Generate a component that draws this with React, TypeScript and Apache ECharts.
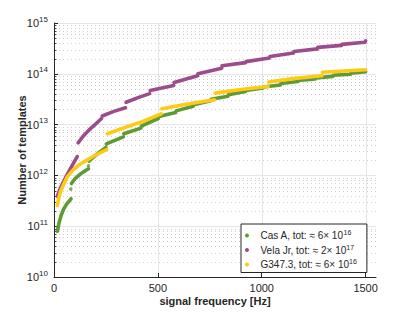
import React, { useEffect, useRef } from 'react';
import * as echarts from 'echarts';

// ---- data ----
const xTicks = [0, 500, 1000, 1500];
const xMax = 1550;
const names = ['Cas A', 'Vela Jr', 'G347.3'];
const totMant = ['6', '2', '6'];
const totExp = ['16', '17', '16'];
const colors = ['#5f9b35', '#9c4c8c', '#fdca14'];

// segments of [frequency Hz, number of templates]
const casA: number[][][] = [
  [[16, 7.94e10], [25, 1.202e11], [35, 1.66e11], [47, 2.188e11], [60, 2.692e11], [82, 3.467e11]],
  [[84, 6.918e11], [100, 8.511e11], [125, 1.047e12], [150, 1.23e12], [166, 1.349e12]],
  [[168, 1.905e12], [210, 2.692e12], [250, 3.548e12]],
  [[252, 4.169e12], [334, 5.754e12]],
  [[336, 6.607e12], [418, 8.511e12]],
  [[420, 9.333e12], [502, 1.318e13]],
  [[504, 1.445e13], [586, 1.738e13]],
  [[588, 1.862e13], [670, 2.291e13]],
  [[672, 2.455e13], [754, 2.951e13]],
  [[756, 3.162e13], [838, 3.631e13]],
  [[840, 3.89e13], [922, 4.467e13]],
  [[924, 4.677e13], [1006, 5.248e13]],
  [[1008, 5.495e13], [1090, 6.026e13]],
  [[1092, 6.457e13], [1174, 7.079e13]],
  [[1176, 7.413e13], [1258, 7.943e13]],
  [[1260, 8.318e13], [1342, 8.913e13]],
  [[1344, 9.333e13], [1426, 9.772e13]],
  [[1428, 1.023e14], [1500, 1.096e14]],
];
const casAIsolated: number[][] = [[81, 5.37e11], [166, 1.55e12]];

const velaJr: number[][][] = [
  [[16, 3.89e11], [30, 5.495e11], [44, 7.244e11], [60, 9.772e11], [76, 1.288e12], [95, 1.778e12], [112, 2.344e12]],
  [[116, 4.365e12], [140, 5.888e12], [170, 7.943e12], [200, 1.023e13], [229, 1.318e13]],
  [[232, 1.479e13], [288, 1.82e13], [344, 2.138e13]],
  [[347, 2.754e13], [405, 3.388e13], [460, 4.074e13]],
  [[463, 4.677e13], [576, 5.888e13]],
  [[578, 6.761e13], [691, 9.12e13]],
  [[693, 1.0e14], [807, 1.288e14]],
  [[809, 1.445e14], [922, 1.66e14]],
  [[924, 1.738e14], [1037, 2.042e14]],
  [[1039, 2.188e14], [1153, 2.57e14]],
  [[1155, 2.754e14], [1268, 3.09e14]],
  [[1270, 3.311e14], [1384, 3.631e14]],
  [[1386, 3.802e14], [1496, 4.169e14], [1500, 4.467e14]],
];

const g347: number[][][] = [
  [[16, 2.57e11], [24, 3.715e11], [31, 4.786e11], [44, 6.31e11], [63, 9.333e11], [92, 1.288e12],
   [125, 1.66e12], [159, 1.995e12], [200, 2.512e12], [254, 3.236e12]],
  [[257, 6.607e12], [340, 8.71e12], [413, 1.096e13], [516, 1.622e13]],
  [[519, 2.042e13], [650, 2.57e13], [773, 3.09e13]],
  [[776, 4.169e13], [900, 4.898e13], [1031, 5.623e13]],
  [[1034, 6.918e13], [1160, 8.128e13], [1289, 9.12e13]],
  [[1292, 1.072e14], [1500, 1.202e14]],
];

const FONT = '"Liberation Sans", Arial, Helvetica, sans-serif';
const TXT = '#262626';

function joinSegs(segs: number[][][]) {
  const out: any[] = [];
  segs.forEach((s, i) => {
    if (i > 0) out.push([s[0][0] - 1, '-']);
    s.forEach((p) => out.push(p));
  });
  return out;
}

export default function App() {
  const ref = useRef<HTMLDivElement>(null);
  useEffect(() => {
    if (!ref.current) return;
    const chart = echarts.init(ref.current, undefined, { renderer: 'svg' });

    const minorVals: number[][] = [];
    for (let d = 10; d < 15; d++) {
      for (let m = 2; m <= 9; m++) minorVals.push([0, m * Math.pow(10, d)]);
    }
    const xGrid = xTicks.slice(1).map((x) => [x, 1e10]);

    const lineSeries = [casA, velaJr, g347].map((segs, i) => ({
      name: names[i],
      type: 'line',
      data: joinSegs(segs),
      showSymbol: false,
      symbol: 'circle',
      connectNulls: false,
      silent: true,
      z: 3,
      itemStyle: { color: colors[i] },
      lineStyle: { width: 3.6, color: colors[i], cap: 'round', join: 'round' },
    }));

    const option: any = {
      animation: false,
      grid: { left: 54, right: 39, top: 23, bottom: 35, containLabel: false },
      legend: {
        data: names,
        orient: 'vertical',
        left: 241,
        top: 224,
        itemWidth: 17,
        itemHeight: 4,
        itemGap: 3,
        icon: 'circle',
        padding: [5, 10, 3, 4],
        borderColor: TXT,
        borderWidth: 1,
        backgroundColor: '#ffffff',
        borderRadius: 0,
        selectedMode: false,
        formatter: (name: string) => {
          const i = names.indexOf(name);
          return `{n|${name}, tot: ≈ ${totMant[i]}× 10}{s|${totExp[i]}}`;
        },
        textStyle: {
          rich: {
            n: { fontSize: 10, color: TXT, fontFamily: FONT },
            s: { fontSize: 7, color: TXT, fontFamily: FONT, padding: [0, 0, 6, 0] },
          },
        },
      },
      xAxis: {
        type: 'value',
        min: 0,
        max: xMax,
        interval: 500,
        name: 'signal frequency [Hz]',
        nameLocation: 'middle',
        nameGap: 18,
        nameMoveOverlap: false,
        nameTextStyle: { fontSize: 11, fontWeight: 'bold', color: TXT, fontFamily: FONT },
        axisLine: { show: true, lineStyle: { color: TXT, width: 1 } },
        axisTick: { show: true, inside: true, length: 4, customValues: xTicks, lineStyle: { color: TXT } },
        axisLabel: {
          customValues: xTicks,
          formatter: (v: number) => String(v),
          fontSize: 11,
          color: TXT,
          fontFamily: FONT,
          margin: 5,
        },
        splitLine: { show: false },
      },
      yAxis: {
        type: 'log',
        logBase: 10,
        min: 1e10,
        max: 1e15,
        name: 'Number of templates',
        nameLocation: 'middle',
        nameGap: 27,
        nameMoveOverlap: false,
        nameTextStyle: { fontSize: 11, fontWeight: 'bold', color: TXT, fontFamily: FONT },
        axisLine: { show: true, lineStyle: { color: TXT, width: 1 } },
        axisTick: { show: true, inside: true, length: 4, lineStyle: { color: TXT } },
        axisLabel: {
          margin: 6,
          formatter: (v: number) => `{b|10}{e|${Math.round(Math.log10(v))}}`,
          rich: {
            b: { fontSize: 11, color: TXT, fontFamily: FONT },
            e: { fontSize: 8, color: TXT, fontFamily: FONT, padding: [0, 0, 8, 0] },
          },
        },
        splitLine: { show: true, lineStyle: { color: '#e6e6e6', width: 1 } },
      },
      series: [
        {
          type: 'custom',
          silent: true,
          z: 1,
          data: minorVals,
          encode: { x: 0, y: 1 },
          renderItem: (params: any, api: any) => {
            const v = api.value(1);
            const p0 = api.coord([0, v]);
            const p1 = api.coord([xMax, v]);
            const y = Math.round(p0[1]) + 0.5;
            return {
              type: 'group',
              children: [
                { type: 'line', shape: { x1: p0[0] + 1, y1: y, x2: p1[0], y2: y }, style: { stroke: '#cfcfcf', lineWidth: 1, lineDash: [1, 3] } },
                { type: 'line', shape: { x1: p0[0], y1: y, x2: p0[0] + 2.5, y2: y }, style: { stroke: TXT, lineWidth: 0.8 } },
              ],
            };
          },
        },
        {
          type: 'custom',
          silent: true,
          z: 1,
          data: xGrid,
          encode: { x: 0, y: 1 },
          renderItem: (params: any, api: any) => {
            const x = api.value(0);
            const p0 = api.coord([x, 1e10]);
            const p1 = api.coord([x, 1e15]);
            const xx = Math.round(p0[0]) + 0.5;
            return {
              type: 'line',
              shape: { x1: xx, y1: p0[1] - 4, x2: xx, y2: p1[1] },
              style: { stroke: '#e6e6e6', lineWidth: 1 },
            };
          },
        },
        ...lineSeries,
        {
          name: names[0],
          type: 'scatter',
          data: casAIsolated,
          symbol: 'circle',
          symbolSize: 3.5,
          silent: true,
          z: 3,
          itemStyle: { color: colors[0] },
        },
      ],
    };
    chart.setOption(option);
    return () => chart.dispose();
  }, []);

  return <div ref={ref} style={{ position: 'absolute', left: 0, top: 0, width: 415, height: 312, background: '#fff' }} />;
}
